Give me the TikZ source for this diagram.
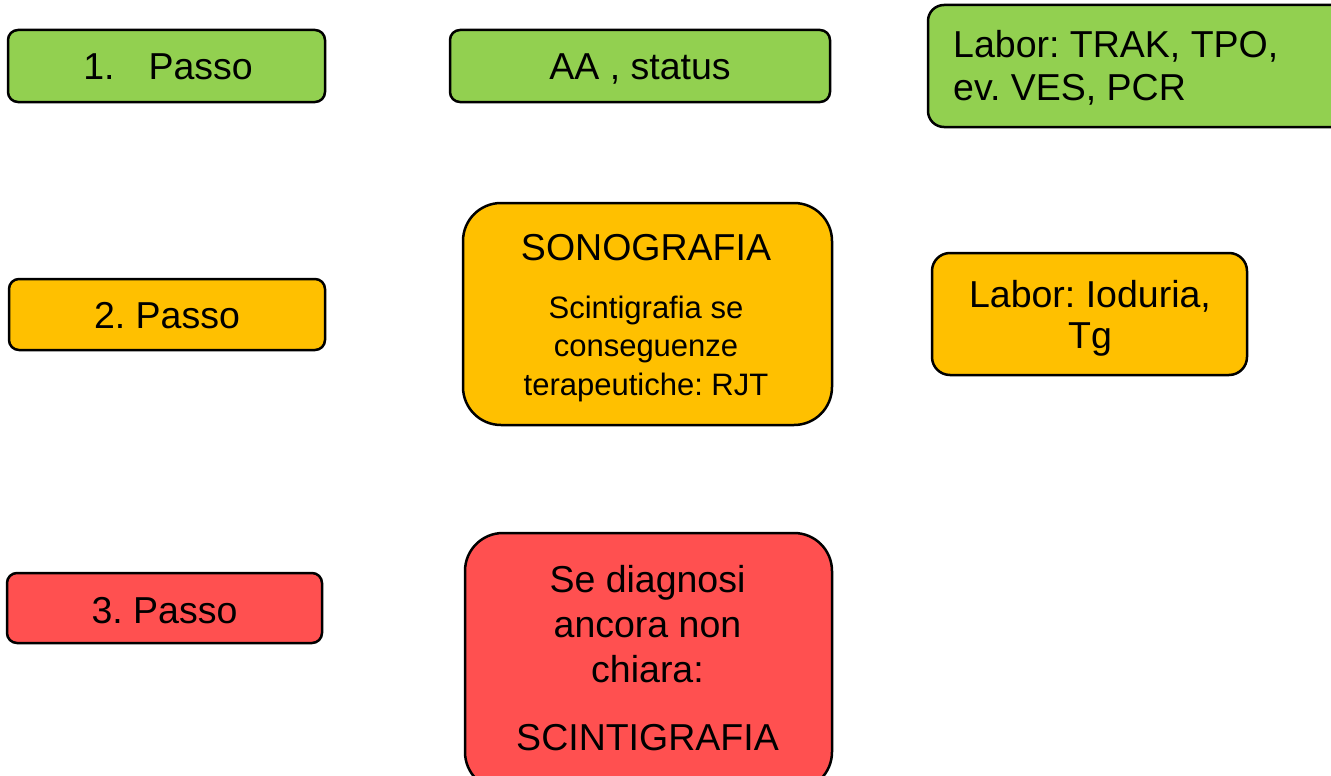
\documentclass[tikz,border=0pt]{standalone}
\usepackage{fontspec}
\setmainfont{Liberation Sans}
\frenchspacing
\definecolor{pgreen}{HTML}{92D050}
\definecolor{porange}{HTML}{FFC000}
\definecolor{pred}{HTML}{FF5050}
\begin{document}
\begin{tikzpicture}[x=1pt,y=-1pt,
  box/.style={draw=black, line width=2.5pt, inner sep=0pt, rounded corners=#1},
  big/.style={font=\fontsize{37.5}{43}\selectfont, inner sep=0pt, anchor=base},
  small/.style={font=\fontsize{31}{38.5}\selectfont, inner sep=0pt, anchor=base, align=center}]
\useasboundingbox (0,0) rectangle (1331,776);
\fill[white] (0,0) rectangle (1331,776);
% boxes
\node[box=10pt, fill=pgreen, minimum width=317pt, minimum height=72pt] (b1) at (166.5,66) {};
\node[box=10pt, fill=pgreen, minimum width=380pt, minimum height=72pt] (b2) at (640,66) {};
\node[box=16pt, fill=pgreen, minimum width=432pt, minimum height=122pt] (b3) at (1144,66) {};
\node[box=10pt, fill=porange, minimum width=316pt, minimum height=71pt] (b4) at (167,314.5) {};
\node[box=38pt, fill=porange, minimum width=369pt, minimum height=222pt] (b5) at (647.5,314) {};
\node[box=18pt, fill=porange, minimum width=315pt, minimum height=122pt] (b6) at (1089.5,314) {};
\node[box=10pt, fill=pred, minimum width=315pt, minimum height=70pt] (b7) at (164.5,608) {};
\node[box=38pt, fill=pred, minimum width=367pt, minimum height=257pt] (b8) at (648.5,661.5) {};
% texts
\node[big] (t1) at (168,80) {1.\hspace{34pt}Passo};
\node[big] (t2) at (640,80) {AA , status};
\node[big, anchor=base west, align=left] (t3) at (953,100) {Labor: TRAK, TPO,\\ev. VES, PCR};
\node[big] (t4) at (167,328) {2. Passo};
\node[big] (t5) at (646,260) {SONOGRAFIA};
\node[small] (t6) at (646,395) {Scintigrafia se\\conseguenze\\terapeutiche: RJT};
\node[big, align=center, font=\fontsize{37.5}{41}\selectfont] (t7) at (1090,348) {Labor: Ioduria,\\Tg};
\node[big] (t8) at (164.5,623) {3. Passo};
\node[big, align=center, font=\fontsize{37.5}{45}\selectfont] (t9) at (647.5,682) {Se diagnosi\\ancora non\\chiara:};
\node[big] (t10) at (647.5,750) {SCINTIGRAFIA};
\end{tikzpicture}
\end{document}
